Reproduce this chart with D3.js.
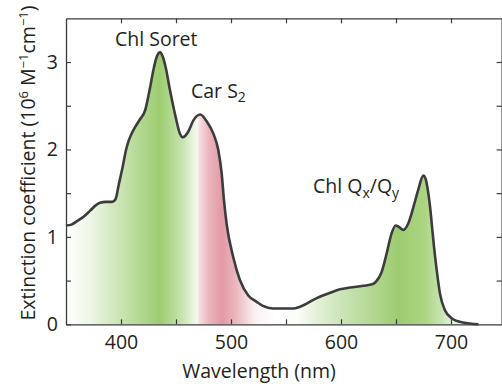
<!DOCTYPE html>
<html><head><meta charset="utf-8">
<script src="https://cdn.jsdelivr.net/npm/d3@7"></script>
<style>
  body { margin: 0; background: #fff; }
  svg { display: block; }
  text { font-family: "Open Sans", sans-serif; fill: #231f20; }
</style>
</head><body>
<svg id="chart" width="502" height="384"></svg>
<script>
// Absorption spectrum: wavelength (nm) and extinction coefficient (10^6 M^-1 cm^-1)
const wavelengths = [350, 355, 360, 366, 372, 377, 381, 386, 392, 395, 398, 401.5, 404.5, 407, 410, 414, 417, 422, 426, 430, 432.5, 435.5, 438, 440.6, 444.5, 449.7, 453.6, 456, 461, 465.7, 472, 478, 484, 488.5, 491.5, 493.6, 496, 502, 508, 515.7, 523, 529, 538, 556.6, 562.7, 578, 590, 599, 608, 620, 629, 632, 637, 641.5, 646, 649.7, 653, 656.6, 661, 665.8, 670, 674.8, 677, 679, 681, 682.5, 684.5, 687, 690, 694.5, 700.6, 711, 725];
const extinction = [1.13, 1.14, 1.18, 1.23, 1.30, 1.36, 1.39, 1.40, 1.40, 1.43, 1.60, 1.80, 1.99, 2.10, 2.19, 2.28, 2.34, 2.45, 2.68, 2.94, 3.06, 3.11, 3.06, 2.94, 2.68, 2.37, 2.18, 2.14, 2.20, 2.33, 2.40, 2.32, 2.18, 1.99, 1.73, 1.42, 1.15, 0.77, 0.51, 0.33, 0.26, 0.21, 0.18, 0.18, 0.20, 0.30, 0.36, 0.40, 0.42, 0.44, 0.46, 0.49, 0.60, 0.81, 1.04, 1.13, 1.11, 1.08, 1.15, 1.34, 1.53, 1.70, 1.66, 1.53, 1.34, 1.15, 0.89, 0.62, 0.35, 0.16, 0.07, 0.02, 0];

// Axis ticks
const xTickValues = [400, 450, 500, 550, 600, 650, 700];
const xTickLabels = [400, 500, 600, 700];
const yTickValues = [0.5, 1, 1.5, 2, 2.5, 3];
const yTickLabels = [0, 1, 2, 3];

// Band annotations
const bandNames = ["Chl Soret", "Car S", "Chl Q"];

// Fill colouring along the wavelength axis
const fillStopWavelengths = [350, 372, 400, 435, 455, 469.5, 470.5, 480, 492, 505, 522, 540, 560, 578, 603, 628, 652, 676, 690, 702];
const fillStopColours = ["#ffffff", "#eef6e7", "#c9e4b2", "#9dcc70", "#c6e3ae", "#f4faef", "#f7e3e6", "#ebb4bc", "#e29aa5", "#ebb9c0", "#fbf1f3", "#ffffff", "#fbfdf9", "#e4f1d9", "#c9e4b3", "#b3d893", "#9dcc70", "#acd582", "#c6e3ae", "#e6f2dc"];

const svg = d3.select("#chart");
const x = d3.scaleLinear().domain([350, 746]).range([66, 501.6]);
const y = d3.scaleLinear().domain([0, 3.5]).range([324.3, 18.3]);

const points = wavelengths.map((w, i) => [w, extinction[i]]);

// Horizontal gradient for the area under the spectrum
const grad = svg.append("defs").append("linearGradient")
  .attr("id", "bandFill")
  .attr("gradientUnits", "userSpaceOnUse")
  .attr("x1", x(350)).attr("x2", x(746))
  .attr("y1", 0).attr("y2", 0);
const span = 746 - 350;
fillStopWavelengths.forEach((w, i) => {
  grad.append("stop")
    .attr("offset", (w - 350) / span)
    .attr("stop-color", fillStopColours[i]);
});

const area = d3.area()
  .x(d => x(d[0])).y0(y(0)).y1(d => y(d[1]))
  .curve(d3.curveMonotoneX);
const line = d3.line()
  .x(d => x(d[0])).y(d => y(d[1]))
  .curve(d3.curveMonotoneX);

svg.append("path").datum(points)
  .attr("d", area)
  .attr("fill", "url(#bandFill)");

// Frame with inward ticks on all four sides
const axisColour = "#3a3a3a";
function styleAxis(g) {
  g.selectAll(".domain").attr("stroke", axisColour).attr("stroke-width", 1.3);
  g.selectAll(".tick line").attr("stroke", axisColour).attr("stroke-width", 1.2);
  g.selectAll(".tick text")
    .attr("fill", "#231f20")
    .style("font-family", '"Open Sans", sans-serif')
    .style("font-size", "19.5px");
}

svg.append("g").attr("transform", `translate(0,${y(0)})`)
  .call(d3.axisBottom(x).tickValues(xTickValues).tickSizeInner(-5).tickSizeOuter(0).tickPadding(11)
    .tickFormat(d => xTickLabels.includes(d) ? d : ""))
  .call(styleAxis);

svg.append("g").attr("transform", `translate(0,${y(3.5)})`)
  .call(d3.axisTop(x).tickValues(xTickValues).tickSizeInner(-5).tickSizeOuter(0).tickFormat(""))
  .call(styleAxis);

svg.append("g").attr("transform", `translate(${x(350)},0)`)
  .call(d3.axisLeft(y).tickValues([0, ...yTickValues]).tickSizeInner(-5).tickSizeOuter(0).tickPadding(8)
    .tickFormat(d => yTickLabels.includes(d) ? d : ""))
  .call(styleAxis);

svg.append("g").attr("transform", `translate(${x(746)},0)`)
  .call(d3.axisRight(y).tickValues(yTickValues).tickSizeInner(-5).tickSizeOuter(0).tickFormat(""))
  .call(styleAxis);

// Spectrum outline
svg.append("path").datum(points)
  .attr("d", line)
  .attr("fill", "none")
  .attr("stroke", "#3c3c3c")
  .attr("stroke-width", 2.6)
  .attr("stroke-linejoin", "round");

// Band labels
const labelSize = 19.5;
svg.append("text").attr("x", 115).attr("y", 45.5)
  .style("font-size", labelSize + "px").text(bandNames[0]);

const car = svg.append("text").attr("x", 191).attr("y", 97.5).style("font-size", labelSize + "px");
car.append("tspan").text(bandNames[1]);
car.append("tspan").attr("dy", 4.5).style("font-size", "14px").text("2");

const q = svg.append("text").attr("x", 313).attr("y", 193).style("font-size", labelSize + "px");
q.append("tspan").text(bandNames[2]);
q.append("tspan").attr("dy", 4.5).style("font-size", "14px").text("x");
q.append("tspan").attr("dy", -4.5).text("/Q");
q.append("tspan").attr("dy", 4.5).style("font-size", "14px").text("y");

// Axis titles
svg.append("text").attr("x", 259).attr("y", 378).attr("text-anchor", "middle")
  .style("font-size", "19.5px").text("Wavelength (nm)");

const yt = svg.append("text")
  .attr("transform", "translate(35,163) rotate(-90)")
  .attr("text-anchor", "middle")
  .style("font-size", "19.5px");
yt.append("tspan").text("Extinction coefficient (10");
yt.append("tspan").attr("dy", -7).style("font-size", "13px").text("6");
yt.append("tspan").attr("dy", 7).text(" M");
yt.append("tspan").attr("dy", -7).style("font-size", "13px").text("−1");
yt.append("tspan").attr("dy", 7).text("cm");
yt.append("tspan").attr("dy", -7).style("font-size", "13px").text("−1");
yt.append("tspan").attr("dy", 7).text(")");
</script>
</body></html>
